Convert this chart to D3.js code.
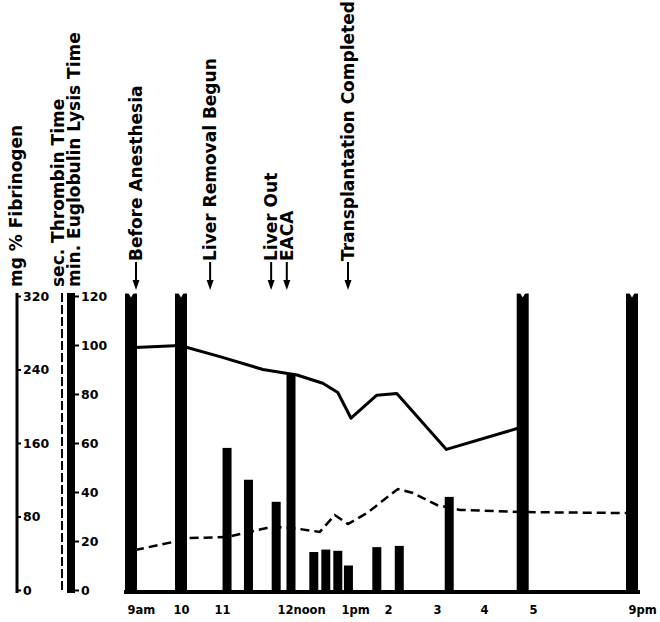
<!DOCTYPE html>
<html>
<head>
<meta charset="utf-8">
<script src="https://cdn.jsdelivr.net/npm/d3@7"></script>
<style>
body { margin: 0; background: #fff; }
text { font-family: "DejaVu Sans", sans-serif; font-weight: bold; fill: #000; }
</style>
</head>
<body>
<svg id="chart" width="660" height="622"></svg>
<script>
// Clock hours (9 = 9am, 21 = 9pm) and the labels printed under them.
var hourTicks = [9, 10, 11, 12, 13, 14, 15, 16, 17, 21];
var hourLabels = ["9am", "10", "11", "12noon", "1pm", "2", "3", "4", "5", "9pm"];

// Left axis ticks.
var fibTicks = [0, 80, 160, 240, 320];
var timeTicks = [0, 20, 40, 60, 80, 100, 120];

// Euglobulin lysis time, min (bars). 121 = off the top of the scale.
var lysisHours = [9.0, 10.0, 11.08, 11.42, 11.86, 12.1, 12.48, 12.68, 12.88, 13.08, 13.74, 14.23, 15.26, 16.79, 21.0];
var lysisMin = [121, 121, 58, 45, 36, 88, 15.5, 16.5, 16, 10, 17.5, 18, 38, 121, 121];

// Fibrinogen, mg % (solid line).
var fibHours = [9.08, 9.98, 10.15, 10.95, 11.65, 12.2, 12.63, 12.88, 13.14, 13.74, 14.18, 15.2, 16.69];
var fibMg = [264, 266, 264, 254, 240, 234, 225, 215, 187, 212, 214, 153, 176];

// Thrombin time, sec (dashed line).
var thrHours = [9.08, 9.84, 10.15, 11.08, 11.71, 11.97, 12.13, 12.58, 12.83, 13.07, 13.51, 14.2, 14.51, 15.0, 15.49, 16.8, 20.92];
var thrSec = [16.3, 19.6, 21.2, 21.6, 25.3, 25.7, 25.3, 23.7, 30.6, 26.9, 31.4, 41.2, 39.6, 34.7, 32.7, 31.8, 31.4];

// Events marked with arrows along the top.
var eventNames = ["Before Anesthesia", "Liver Removal Begun", "Liver Out", "EACA", "Transplantation Completed"];
var eventHours = [9.1, 10.71, 11.78, 12.03, 13.07];

var svg = d3.select("#chart");

// The hour axis is not evenly spaced in the original: one piece per hour.
var x = d3.scaleLinear()
    .domain(hourTicks)
    .range([131, 181, 222, 285, 345, 388, 437, 484, 533, 632]);

var y0 = 590, yTop = 296;
var y = d3.scaleLinear().domain([0, 120]).range([y0, yTop]);      // sec. / min.
var yFib = d3.scaleLinear().domain([0, 320]).range([y0, yTop]);   // mg %

// ---- left axes ----
// Fibrinogen: plain solid rail.
svg.append("line")
    .attr("x1", 17).attr("x2", 17).attr("y1", 293).attr("y2", 593)
    .attr("stroke", "#000").attr("stroke-width", 3);
var fibAxis = svg.append("g")
    .attr("transform", "translate(17,0)")
    .call(d3.axisRight(yFib).tickValues(fibTicks).tickSize(4).tickSizeOuter(0).tickPadding(2));
fibAxis.select(".domain").remove();

// Thrombin time (dashed rail) and lysis time (thick rail) share one scale.
svg.append("line")
    .attr("x1", 62).attr("x2", 62).attr("y1", 293).attr("y2", 593)
    .attr("stroke", "#000").attr("stroke-width", 2)
    .attr("stroke-dasharray", "9,3");
svg.append("rect")
    .attr("x", 67).attr("y", 293).attr("width", 8).attr("height", 300)
    .attr("fill", "#000");
var timeAxis = svg.append("g")
    .attr("transform", "translate(75,0)")
    .call(d3.axisRight(y).tickValues(timeTicks).tickSize(4).tickSizeOuter(0).tickPadding(2));
timeAxis.select(".domain").remove();

svg.selectAll(".tick line").attr("stroke", "#000").attr("stroke-width", 2);
svg.selectAll(".tick text").style("font-size", "12.5px").style("font-family", "DejaVu Sans").style("font-weight", "bold");

// Rotated axis titles.
function vtext(tx, ty, str) {
    return svg.append("text")
        .attr("transform", "translate(" + tx + "," + ty + ") rotate(-90)")
        .style("font-size", "17px")
        .text(str);
}
vtext(22, 287, "mg % Fibrinogen");
vtext(64, 287, "sec. Thrombin Time");
vtext(80, 287, "min. Euglobulin Lysis Time");

// ---- bars: euglobulin lysis time ----
var bars = lysisHours.map(function (h, i) { return { h: h, v: lysisMin[i] }; });
svg.append("g").selectAll("rect")
    .data(bars)
    .join("rect")
    .attr("x", function (d) { return x(d.h) - (d.v > 120 ? 6 : 4.5); })
    .attr("y", function (d) { return y(d.v); })
    .attr("width", function (d) { return d.v > 120 ? 12 : 9; })
    .attr("height", function (d) { return y0 + 2 - y(d.v); })
    .attr("fill", "#000");

// Off-scale bars get a little V cut into their tops.
svg.append("g").selectAll("path")
    .data(bars.filter(function (d) { return d.v > 120; }))
    .join("path")
    .attr("d", function (d) {
        var cx = x(d.h), t = y(d.v) - 1;
        return "M" + (cx - 3) + "," + t + "L" + cx + "," + (t + 5) + "L" + (cx + 3) + "," + t + "Z";
    })
    .attr("fill", "#fff");

// ---- lines ----
var fibLine = d3.line()
    .x(function (d, i) { return x(fibHours[i]); })
    .y(function (d) { return yFib(d); });
svg.append("path")
    .attr("d", fibLine(fibMg))
    .attr("fill", "none").attr("stroke", "#000")
    .attr("stroke-width", 3).attr("stroke-linejoin", "round");

var thrLine = d3.line()
    .x(function (d, i) { return x(thrHours[i]); })
    .y(function (d) { return y(d); });
svg.append("path")
    .attr("d", thrLine(thrSec))
    .attr("fill", "none").attr("stroke", "#000")
    .attr("stroke-width", 2.5).attr("stroke-dasharray", "9,5");

// ---- baseline and hour labels ----
svg.append("line")
    .attr("x1", 124).attr("x2", 640).attr("y1", y0 + 2).attr("y2", y0 + 2)
    .attr("stroke", "#000").attr("stroke-width", 4);

var hourAxis = svg.append("g")
    .attr("transform", "translate(0,614)")
    .call(d3.axisBottom(x).tickValues(hourTicks).tickSize(0)
        .tickFormat(function (d, i) { return hourLabels[i]; }));
hourAxis.select(".domain").remove();
hourAxis.selectAll(".tick text")
    .attr("y", 0).attr("dy", 0)
    .style("font-size", "11.5px").style("font-family", "DejaVu Sans").style("font-weight", "bold")
    .each(function (d, i) {
        // Centre the number on its hour and let "am", "noon", "pm" trail after it.
        var label = hourLabels[i], num = label.match(/^\d+/)[0];
        if (num === label) return;
        var t = d3.select(this).text(num);
        var w = this.getComputedTextLength();
        t.text(label).attr("text-anchor", "start").attr("x", -w / 2);
    });

// ---- event arrows along the top ----
var ev = svg.append("g").selectAll("g")
    .data(eventNames)
    .join("g")
    .attr("transform", function (d, i) { return "translate(" + x(eventHours[i]) + ",0)"; });
ev.append("line")
    .attr("x1", 0).attr("x2", 0).attr("y1", 262).attr("y2", 283)
    .attr("stroke", "#000").attr("stroke-width", 2);
ev.append("path")
    .attr("d", "M-3.5,280L0,290L3.5,280Z")
    .attr("fill", "#000");
ev.append("text")
    .attr("transform", "translate(6,261) rotate(-90)")
    .style("font-size", "17px")
    .text(function (d) { return d; });
</script>
</body>
</html>
